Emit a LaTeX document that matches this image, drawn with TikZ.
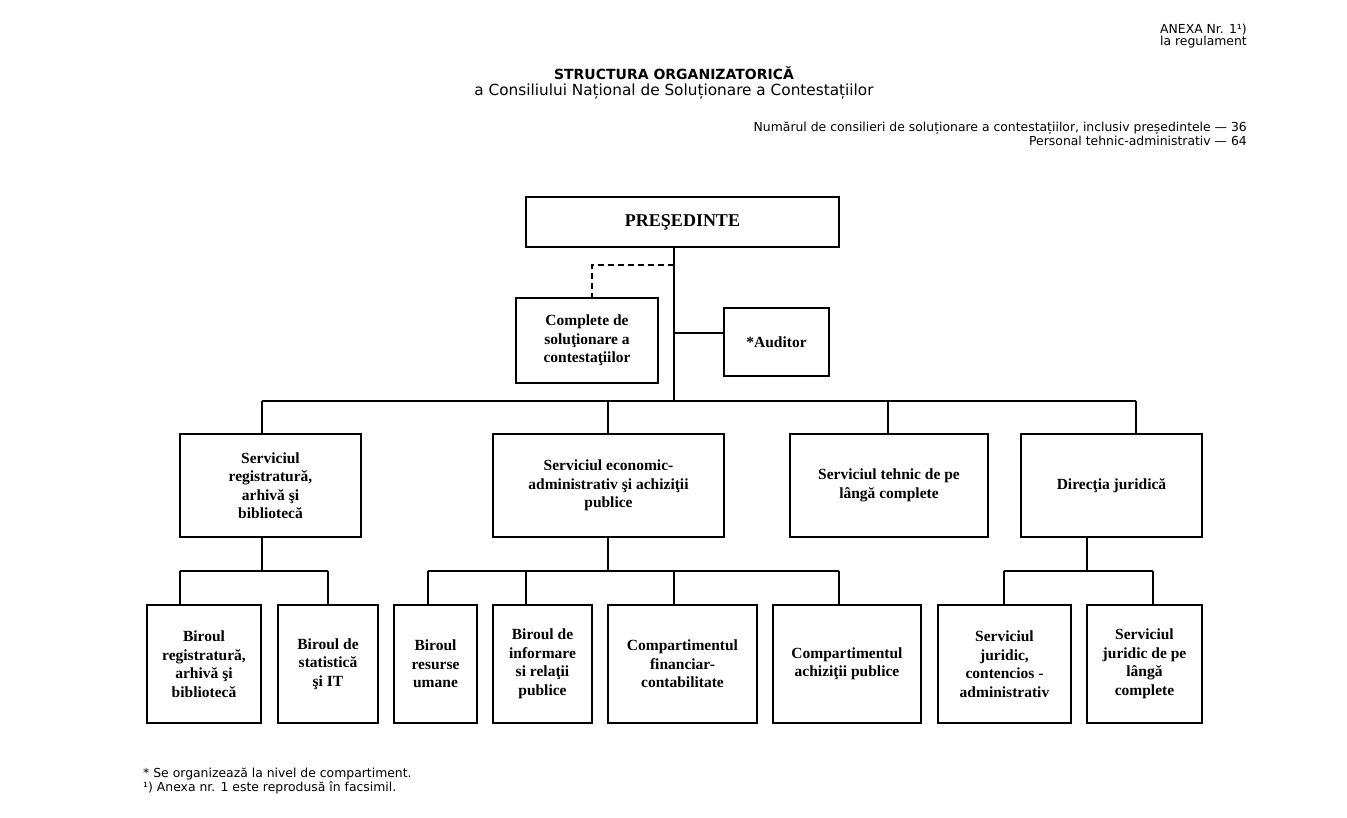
\documentclass[tikz,border=0pt]{standalone}
\usepackage{fontspec}
\setmainfont{Liberation Serif}
\newfontfamily\verd{DejaVu Sans}
\begin{document}
\begin{tikzpicture}[x=1pt,y=-1pt,
  box/.style={draw, line width=1.6pt, inner sep=0pt, align=center,
    font=\bfseries\fontsize{15.5}{18.5}\selectfont},
  conn/.style={line width=1.3pt},
  hdr/.style={inner sep=0pt, font=\verd\fontsize{12.4}{14}\selectfont}]
\useasboundingbox (0,0) rectangle (1347,818);
\fill[white] (0,0) rectangle (1347,818);

% header texts
\node[hdr, anchor=base east] (anx) at (1247,34) {ANEXA Nr. 1¹)};
\node[hdr, anchor=base east] (reg0) at (1247,46) {la regulament};
\node[hdr, anchor=base, font=\verd\bfseries\fontsize{14}{16}\selectfont] (t1) at (674,80) {STRUCTURA ORGANIZATORICĂ};
\node[hdr, anchor=base, font=\verd\fontsize{15.3}{17}\selectfont] (t2) at (674,96) {a Consiliului Național de Soluționare a Contestațiilor};
\node[hdr, anchor=base east] (n1) at (1247,132) {Numărul de consilieri de soluționare a contestațiilor, inclusiv președintele — 36};
\node[hdr, anchor=base east] (n2) at (1247,146) {Personal tehnic-administrativ — 64};
\node[hdr, anchor=base west] (f1) at (143,777) {* Se organizează la nivel de compartiment.};
\node[hdr, anchor=base west] (f2) at (143,791) {¹) Anexa nr. 1 este reprodusă în facsimil.};

% boxes
\node[box, minimum width=313pt, minimum height=50pt, font=\bfseries\fontsize{18}{20}\selectfont] (pres) at (682.5,222) {PREŞEDINTE};
\node[box, minimum width=142pt, minimum height=85pt] (comp) at (587,340.5) {Complete de\\soluţionare a\\contestaţiilor};
\node[box, minimum width=105pt, minimum height=68pt] (aud) at (776.5,342) {*Auditor};

\node[box, minimum width=181pt, minimum height=103pt] (reg) at (270.5,485.5) {Serviciul\\registratură,\\arhivă şi\\bibliotecă};
\node[box, minimum width=231pt, minimum height=103pt] (eco) at (608.5,485.5) {Serviciul economic-\\administrativ şi achiziţii\\publice};
\node[box, minimum width=198pt, minimum height=103pt] (teh) at (889,485.5) {Serviciul tehnic de pe\\lângă complete};
\node[box, minimum width=181pt, minimum height=103pt] (jur) at (1111.5,485.5) {Direcţia juridică};

\node[box, minimum width=114pt, minimum height=118pt] (b1) at (204,664) {Biroul\\registratură,\\arhivă şi\\bibliotecă};
\node[box, minimum width=100pt, minimum height=118pt] (b2) at (328,664) {Biroul de\\statistică\\şi IT};
\node[box, minimum width=83pt, minimum height=118pt] (b3) at (435.5,664) {Biroul\\resurse\\umane};
\node[box, minimum width=99pt, minimum height=118pt] (b4) at (542.5,664) {Biroul de\\informare\\si relaţii\\publice};
\node[box, minimum width=149pt, minimum height=118pt] (b5) at (682.5,664) {Compartimentul\\financiar-\\contabilitate};
\node[box, minimum width=148pt, minimum height=118pt] (b6) at (847,664) {Compartimentul\\achiziţii publice};
\node[box, minimum width=133pt, minimum height=118pt] (b7) at (1004.5,664) {Serviciul\\juridic,\\contencios -\\administrativ};
\node[box, minimum width=115pt, minimum height=118pt] (b8) at (1144.5,664) {Serviciul\\juridic de pe\\lângă\\complete};

% bus coordinates
\coordinate (m) at (674,401);
\coordinate (k) at (674,265);
\coordinate (k2) at (592,265);
\coordinate (a1) at (674,333);
\coordinate (d1) at (262,401);
\coordinate (d2) at (608,401);
\coordinate (d3) at (888,401);
\coordinate (d4) at (1136,401);
\coordinate (e1) at (262,571);
\coordinate (f1) at (180,571);
\coordinate (f2) at (328,571);
\coordinate (e2) at (608,571);
\coordinate (g1) at (428,571);
\coordinate (g2) at (526,571);
\coordinate (g3) at (674,571);
\coordinate (g4) at (839,571);
\coordinate (e3) at (1087,571);
\coordinate (h1) at (1004,571);
\coordinate (h2) at (1153,571);

% connectors
\draw[conn] (m |- pres.south) -- (m);
\draw[conn, dash pattern=on 6pt off 4pt] (k) -- (k2) -- (k2 |- comp.north);
\draw[conn] (a1) -- (a1 -| aud.west);
\draw[conn] (d1) -- (d4);
\draw[conn] (d1) -- (d1 |- reg.north);
\draw[conn] (d2) -- (d2 |- eco.north);
\draw[conn] (d3) -- (d3 |- teh.north);
\draw[conn] (d4) -- (d4 |- jur.north);

\draw[conn] (e1 |- reg.south) -- (e1);
\draw[conn] (f1) -- (f2);
\draw[conn] (f1) -- (f1 |- b1.north);
\draw[conn] (f2) -- (f2 |- b2.north);

\draw[conn] (e2 |- eco.south) -- (e2);
\draw[conn] (g1) -- (g4);
\draw[conn] (g1) -- (g1 |- b3.north);
\draw[conn] (g2) -- (g2 |- b4.north);
\draw[conn] (g3) -- (g3 |- b5.north);
\draw[conn] (g4) -- (g4 |- b6.north);

\draw[conn] (e3 |- jur.south) -- (e3);
\draw[conn] (h1) -- (h2);
\draw[conn] (h1) -- (h1 |- b7.north);
\draw[conn] (h2) -- (h2 |- b8.north);
\end{tikzpicture}
\end{document}
